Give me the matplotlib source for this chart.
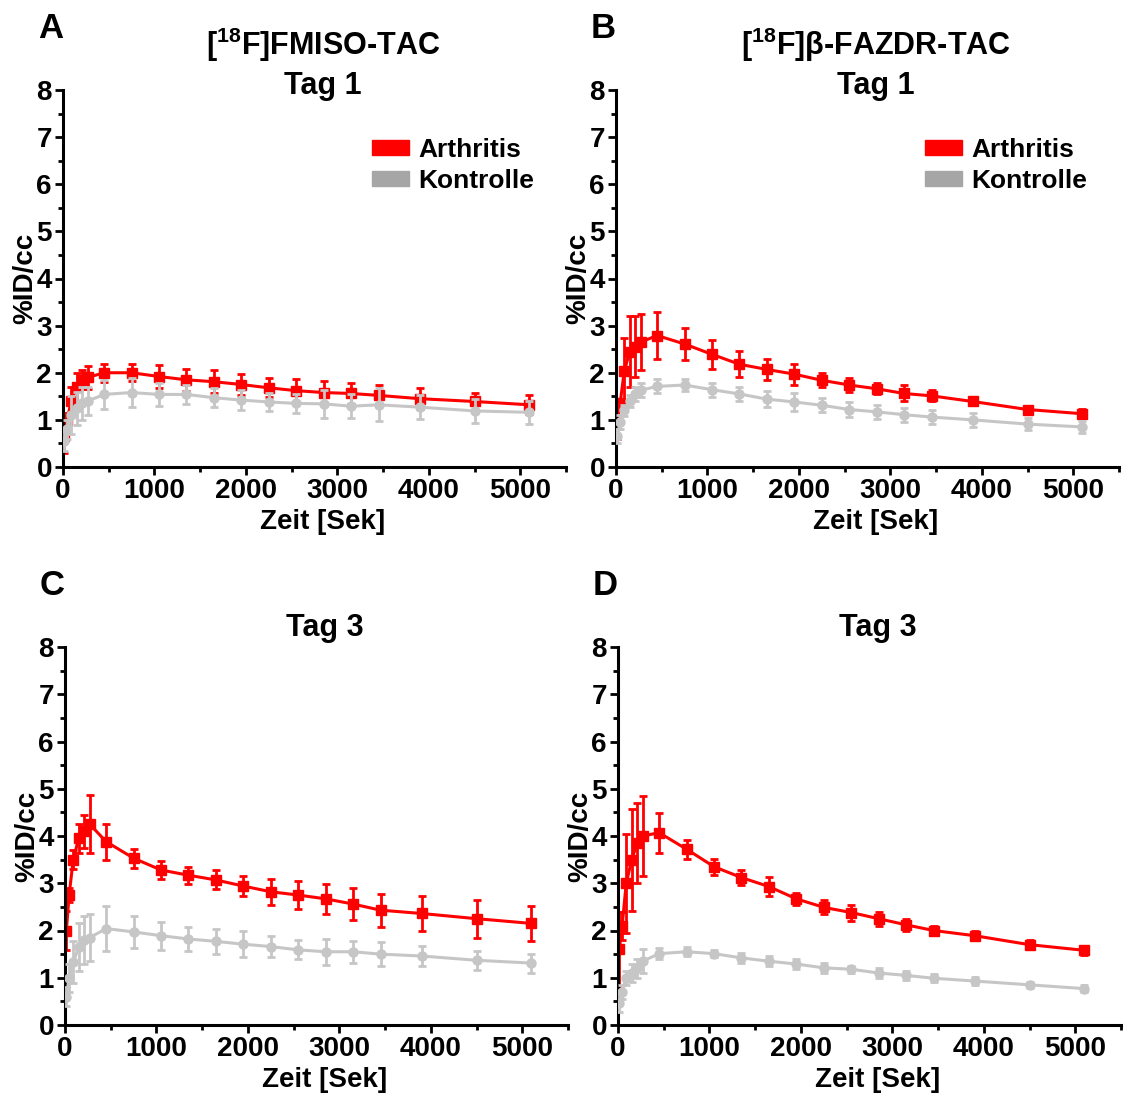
import numpy as np
import matplotlib
matplotlib.use('Agg')
import matplotlib.pyplot as plt
from matplotlib.patches import Patch

plt.rcParams['font.family'] = ['Liberation Sans', 'DejaVu Sans']
plt.rcParams['font.weight'] = 'bold'
plt.rcParams['mathtext.fontset'] = 'custom'
plt.rcParams['mathtext.rm'] = 'Liberation Sans:bold'
plt.rcParams['mathtext.default'] = 'rm'

# frame mid times [s]
t = [15, 45, 90, 150, 210, 270, 450, 750, 1050, 1350, 1650, 1950,
     2250, 2550, 2850, 3150, 3450, 3900, 4500, 5100]

# A: FMISO Tag 1
a_art = [0.65, 1.0, 1.4, 1.7, 1.85, 1.9, 2.0, 2.0, 1.92, 1.85, 1.81, 1.75,
         1.68, 1.62, 1.58, 1.56, 1.52, 1.45, 1.39, 1.32]
a_art_err = [0.35, 0.15, 0.3, 0.3, 0.2, 0.25, 0.19, 0.18, 0.25, 0.23, 0.25, 0.23,
             0.2, 0.25, 0.25, 0.23, 0.23, 0.22, 0.18, 0.2]
a_ko = [0.55, 0.8, 1.1, 1.25, 1.35, 1.4, 1.54, 1.58, 1.54, 1.54, 1.47, 1.42,
        1.38, 1.35, 1.34, 1.29, 1.32, 1.27, 1.19, 1.16]
a_ko_err = [0.2, 0.2, 0.4, 0.35, 0.35, 0.3, 0.3, 0.3, 0.25, 0.2, 0.2, 0.22,
            0.2, 0.2, 0.3, 0.25, 0.35, 0.25, 0.25, 0.25]

# B: beta-FAZDR Tag 1
b_art = [1.0, 1.35, 2.03, 2.45, 2.55, 2.65, 2.79, 2.61, 2.39, 2.18, 2.07, 1.97,
         1.84, 1.74, 1.66, 1.56, 1.51, 1.39, 1.22, 1.13]
b_art_err = [0.4, 0.1, 0.7, 0.75, 0.65, 0.6, 0.5, 0.33, 0.3, 0.28, 0.22, 0.22,
             0.15, 0.15, 0.12, 0.17, 0.12, 0.08, 0.08, 0.1]
b_ko = [0.65, 0.95, 1.2, 1.4, 1.55, 1.63, 1.71, 1.74, 1.64, 1.55, 1.44, 1.38,
        1.31, 1.22, 1.17, 1.11, 1.06, 1.0, 0.91, 0.85]
b_ko_err = [0.15, 0.15, 0.12, 0.12, 0.15, 0.15, 0.15, 0.13, 0.15, 0.15, 0.17, 0.2,
            0.15, 0.15, 0.15, 0.15, 0.15, 0.15, 0.13, 0.12]

# C: FMISO Tag 3
c_art = [2.0, 2.75, 3.5, 3.95, 4.1, 4.25, 3.88, 3.53, 3.28, 3.17, 3.07, 2.94,
         2.82, 2.75, 2.67, 2.56, 2.43, 2.36, 2.25, 2.15]
c_art_err = [0.42, 0.15, 0.2, 0.3, 0.35, 0.62, 0.38, 0.2, 0.2, 0.18, 0.2, 0.22,
             0.28, 0.3, 0.32, 0.33, 0.35, 0.37, 0.4, 0.37]
c_ko = [0.6, 1.0, 1.33, 1.65, 1.8, 1.85, 2.04, 1.97, 1.89, 1.82, 1.77, 1.71,
        1.66, 1.59, 1.55, 1.55, 1.5, 1.46, 1.37, 1.31]
c_ko_err = [0.2, 0.3, 0.45, 0.5, 0.5, 0.5, 0.48, 0.33, 0.3, 0.25, 0.26, 0.27,
            0.23, 0.2, 0.27, 0.23, 0.25, 0.22, 0.2, 0.2]

# D: beta-FAZDR Tag 3
d_art = [1.6, 2.1, 3.0, 3.5, 3.85, 4.0, 4.07, 3.72, 3.35, 3.12, 2.93, 2.67,
         2.49, 2.38, 2.25, 2.12, 2.0, 1.89, 1.7, 1.58]
d_art_err = [0.8, 0.3, 1.05, 1.08, 0.85, 0.85, 0.42, 0.2, 0.17, 0.15, 0.2, 0.12,
             0.15, 0.17, 0.15, 0.13, 0.1, 0.1, 0.1, 0.1]
d_ko = [0.47, 0.7, 1.0, 1.1, 1.2, 1.35, 1.51, 1.55, 1.51, 1.42, 1.35, 1.29,
        1.21, 1.18, 1.1, 1.05, 0.99, 0.93, 0.85, 0.77]
d_ko_err = [0.2, 0.15, 0.15, 0.2, 0.2, 0.25, 0.12, 0.1, 0.07, 0.1, 0.1, 0.1,
            0.1, 0.07, 0.1, 0.1, 0.08, 0.08, 0.06, 0.07]

panels = [
    ('A', r'[$^{18}$F]FMISO-TAC', 'Tag 1', a_art, a_art_err, a_ko, a_ko_err, True),
    ('B', r'[$^{18}$F]β-FAZDR-TAC', 'Tag 1', b_art, b_art_err, b_ko, b_ko_err, True),
    ('C', None, 'Tag 3', c_art, c_art_err, c_ko, c_ko_err, False),
    ('D', None, 'Tag 3', d_art, d_art_err, d_ko, d_ko_err, False),
]

RED = '#ff0000'
GREY = '#c6c6c6'

fig = plt.figure(figsize=(11.26, 10.97), dpi=100)

W, H = 1126.0, 1097.0
# axes boxes in pixels: left, right, top(y=8), bottom(y=0)
boxes = [(63, 566, 90, 467), (616, 1119, 90, 467),
         (65, 568, 647, 1025), (618, 1121, 647, 1025)]

for (letter, title1, title2, art, art_err, ko, ko_err, show_leg), box in zip(panels, boxes):
    l, r, top, bot = box
    ax = fig.add_axes([l / W, 1 - bot / H, (r - l) / W, (bot - top) / H])

    ax.errorbar(t, art, yerr=art_err, color=RED, lw=2.2, marker='s', ms=6.5,
                elinewidth=2.0, capsize=3, capthick=2.0, zorder=2)
    ax.errorbar(t, ko, yerr=ko_err, color=GREY, lw=2.2, marker='o', ms=6.5,
                elinewidth=2.0, capsize=3, capthick=2.0, zorder=3)

    ax.set_xlim(0, 5500)
    ax.set_ylim(0, 8)
    ax.set_xticks([0, 1000, 2000, 3000, 4000, 5000])
    ax.set_xticks(np.arange(500, 5501, 1000), minor=True)
    ax.set_yticks(range(0, 9))
    ax.set_yticks(np.arange(0.5, 8, 1.0), minor=True)
    for s in ['top', 'right']:
        ax.spines[s].set_visible(False)
    for s in ['left', 'bottom']:
        ax.spines[s].set_linewidth(2.2)
    ax.tick_params(which='major', length=6, width=2, labelsize=20, pad=2)
    ax.tick_params(which='minor', length=3.5, width=2)
    for lab in ax.get_xticklabels() + ax.get_yticklabels():
        lab.set_fontweight('bold')

    ax.set_xlabel('Zeit [Sek]', fontsize=20, fontweight='bold')
    ax.xaxis.set_label_coords(0.517, -0.112)
    ax.set_ylabel('%ID/cc', fontsize=20, fontweight='bold')
    ax.yaxis.set_label_coords(-0.05, 0.5)

    if title1 is not None:
        ax.text(0.517, 1.092, title1, transform=ax.transAxes, ha='center',
                va='baseline', fontsize=22, fontweight='bold')
        ax.text(0.517, 0.99, title2, transform=ax.transAxes, ha='center',
                va='baseline', fontsize=22, fontweight='bold')
    else:
        ax.text(0.517, 1.03, title2, transform=ax.transAxes, ha='center',
                va='baseline', fontsize=22, fontweight='bold')

    fig.text((l - 25) / W, 1 - (top - 52) / H, letter, fontsize=25,
             fontweight='bold', ha='left', va='baseline')

    if show_leg:
        handles = [Patch(color=RED), Patch(color='#a6a6a6')]
        ax.legend(handles, ['Arthritis', 'Kontrolle'], loc='upper left',
                  bbox_to_anchor=(0.615, 0.872), frameon=False,
                  prop={'weight': 'bold', 'size': 19}, handlelength=1.4,
                  handleheight=0.5, handletextpad=0.35, labelspacing=0.25,
                  borderpad=0, borderaxespad=0)

fig.savefig('out.png', dpi=100)
